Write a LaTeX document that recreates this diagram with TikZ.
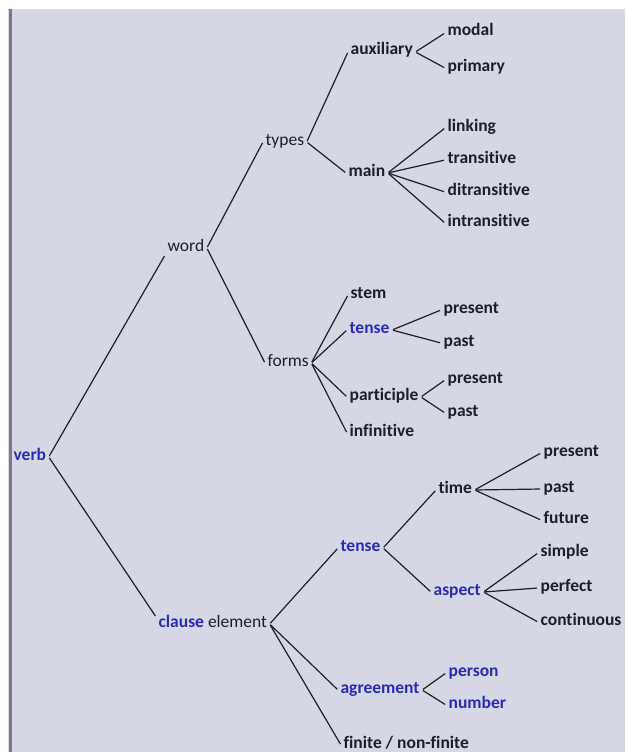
\documentclass[tikz,border=0pt]{standalone}
\usepackage{fontspec}
\setmainfont{Carlito}[Ligatures=NoCommon]
\usepackage{tikz}
\usetikzlibrary{positioning}
\definecolor{pagebg}{RGB}{214,215,229}
\definecolor{pageedge}{RGB}{120,120,135}
\definecolor{inkblue}{RGB}{42,42,185}
\definecolor{ink}{RGB}{30,30,36}
\tikzset{my_tree/.style={x=1pt,y=-1pt,line width=1.2pt,color=ink}}
\tikzset{my_term/.style={anchor=west, inner xsep=2pt, inner ysep=1pt, text height=8.5pt, text depth=2.5pt, font=\bfseries\fontsize{17.5}{18}\selectfont}}
\tikzset{my_head/.style={my_term, font=\fontsize{17.5}{18}\selectfont}}
\tikzset{my_blue/.style={text=inkblue}}
\tikzset{my_edge/.style={shorten <=1pt, shorten >=1pt}}

\begin{document}
\begin{tikzpicture}[my_tree]
    \useasboundingbox (0,0) rectangle (625,752);
    % the page
    \fill[white] (0,0) rectangle (625,752);
    \fill[pagebg] (8,9) rectangle (625,752);
    \draw[pageedge, line width=3pt] (10,9) -- (10,752);

    \node[my_term, my_blue] (verb) at (11,457) {verb};
    \node[my_head] (word) at (165,248) {word};
    \node[my_head] (clause) at (156,624) {\textcolor{inkblue}{\bfseries clause} element};

    % word
    \node[my_head] (types) at (263,142) {types};
    \node[my_head] (forms) at (265,363) {forms};
    \node[my_term] (auxiliary) at (348,52) {auxiliary};
    \node[my_term] (main) at (346,173) {main};
    \node[my_term] (modal) at (445,33) {modal};
    \node[my_term] (primary) at (445,68) {primary};
    \node[my_term] (linking) at (445,128) {linking};
    \node[my_term] (transitive) at (445,160) {transitive};
    \node[my_term] (ditransitive) at (445,192) {ditransitive};
    \node[my_term] (intransitive) at (445,223) {intransitive};
    \node[my_term] (stem) at (348,295) {stem};
    \node[my_term, my_blue] (ftense) at (347,330) {tense};
    \node[my_term] (participle) at (347,397) {participle};
    \node[my_term] (infinitive) at (347,433) {infinitive};
    \node[my_term] (fpresent) at (441,310) {present};
    \node[my_term] (fpast) at (441,343) {past};
    \node[my_term] (ppresent) at (445,380) {present};
    \node[my_term] (ppast) at (445,413) {past};

    % clause element
    \node[my_term, my_blue] (ctense) at (338,548) {tense};
    \node[my_term] (time) at (436,490) {time};
    \node[my_term, my_blue] (aspect) at (431,592) {aspect};
    \node[my_term, my_blue] (agreement) at (338,690) {agreement};
    \node[my_term] (finite) at (341,745) {finite / non-finite};
    \node[my_term] (tpresent) at (541,453) {present};
    \node[my_term] (tpast) at (541,489) {past};
    \node[my_term] (tfuture) at (541,520) {future};
    \node[my_term] (simple) at (538,553) {simple};
    \node[my_term] (perfect) at (538,588) {perfect};
    \node[my_term] (continuous) at (538,622) {continuous};
    \node[my_term, my_blue] (person) at (446,673) {person};
    \node[my_term, my_blue] (number) at (446,705) {number};

    \path[my_edge]
        (verb.east) edge (word.south west)
        (verb.east) edge (clause.north west)
        (word.east) edge (types.west)
        (word.east) edge (forms.west)
        (types.east) edge (auxiliary.west)
        (types.east) edge (main.west)
        (auxiliary.east) edge (modal.west)
        (auxiliary.east) edge (primary.west)
        (main.east) edge (linking.west)
        (main.east) edge (transitive.west)
        (main.east) edge (ditransitive.west)
        (main.east) edge (intransitive.west)
        (forms.east) edge (stem.west)
        (forms.east) edge (ftense.west)
        (forms.east) edge (participle.west)
        (forms.east) edge (infinitive.west)
        (ftense.east) edge (fpresent.west)
        (ftense.east) edge (fpast.west)
        (participle.east) edge (ppresent.west)
        (participle.east) edge (ppast.west)
        (clause.east) edge (ctense.west)
        (clause.east) edge (agreement.west)
        (clause.east) edge (finite.west)
        (ctense.east) edge (time.west)
        (ctense.east) edge (aspect.west)
        (time.east) edge (tpresent.west)
        (time.east) edge (tpast.west)
        (time.east) edge (tfuture.west)
        (aspect.east) edge (simple.west)
        (aspect.east) edge (perfect.west)
        (aspect.east) edge (continuous.west)
        (agreement.east) edge (person.west)
        (agreement.east) edge (number.west)
    ;
\end{tikzpicture}
\end{document}
